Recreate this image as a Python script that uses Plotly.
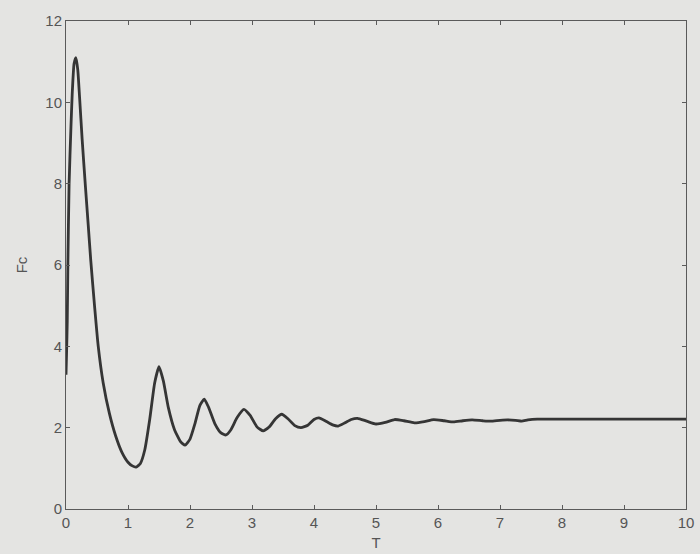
import plotly.graph_objects as go

# values
t = [0.0, 0.01, 0.02, 0.03, 0.05, 0.08, 0.1, 0.13, 0.16, 0.19, 0.22, 0.26, 0.31,
     0.36, 0.4, 0.46, 0.52, 0.6, 0.7, 0.8, 0.9, 1.0, 1.07, 1.13, 1.2, 1.27,
     1.35, 1.43, 1.5, 1.57, 1.65, 1.75, 1.85, 1.92, 2.0, 2.08, 2.16, 2.23,
     2.3, 2.4, 2.5, 2.58, 2.66, 2.76, 2.87, 2.97, 3.08, 3.18, 3.28, 3.38,
     3.48, 3.58, 3.69, 3.79, 3.9, 4.0, 4.08, 4.2, 4.3, 4.39, 4.5, 4.6, 4.7,
     4.85, 5.0, 5.15, 5.3, 5.45, 5.62, 5.78, 5.93, 6.1, 6.25, 6.4, 6.55,
     6.72, 6.85, 7.0, 7.12, 7.25, 7.35, 7.45, 7.6, 8.0, 9.0, 10.0]
fc = [3.3, 3.9, 4.6, 6.0, 8.0, 9.4, 10.2, 10.95, 11.1, 10.8, 10.1, 9.1, 8.0,
      6.95, 6.1, 5.0, 4.0, 3.1, 2.35, 1.8, 1.4, 1.15, 1.06, 1.03, 1.12, 1.45,
      2.2, 3.1, 3.5, 3.15, 2.5, 1.95, 1.65, 1.57, 1.72, 2.1, 2.55, 2.7,
      2.5, 2.1, 1.87, 1.82, 1.95, 2.25, 2.45, 2.3, 2.02, 1.92, 2.02, 2.22,
      2.33, 2.22, 2.05, 2.0, 2.06, 2.2, 2.24, 2.15, 2.07, 2.04, 2.12, 2.2, 2.23,
      2.16, 2.09, 2.13, 2.2, 2.17, 2.12, 2.15, 2.2, 2.17, 2.14, 2.17, 2.19,
      2.17, 2.16, 2.18, 2.19, 2.18, 2.16, 2.19, 2.21, 2.21, 2.21, 2.21]

x_ticks = [0, 1, 2, 3, 4, 5, 6, 7, 8, 9, 10]
y_ticks = [0, 2, 4, 6, 8, 10, 12]

fig = go.Figure()
fig.add_trace(go.Scatter(
    x=t, y=fc,
    mode='lines',
    line=dict(color='#353535', width=2.8, shape='spline', smoothing=0.5),
    showlegend=False
))

axis_common = dict(
    showgrid=False, zeroline=False, automargin=False,
    showline=True, linecolor='#5a5a5a', linewidth=1,
    mirror='allticks', ticks='inside', ticklen=4, tickcolor='#5a5a5a',
    tickfont=dict(size=15, family='Liberation Sans', color='#555555'),
)

fig.update_layout(
    width=700, height=554,
    paper_bgcolor='#e4e4e2', plot_bgcolor='#e4e4e2',
    margin=dict(l=66, r=14, t=21, b=45),
    xaxis=dict(
        range=[0, 10], tickvals=x_ticks,
        title=dict(text='T', standoff=7,
                   font=dict(size=15, family='Liberation Sans', color='#555555')),
        **axis_common
    ),
    yaxis=dict(
        range=[0, 12], tickvals=y_ticks,
        title=dict(text='Fc', standoff=14,
                   font=dict(size=15, family='Liberation Sans', color='#555555')),
        **axis_common
    ),
)

# drop the browser's default page margin so the figure sits at the corner
fig.write_html("out.html",
               config={'displayModeBar': False},
               post_script="document.body.style.margin='0';"
                           "document.body.style.overflow='hidden';")
